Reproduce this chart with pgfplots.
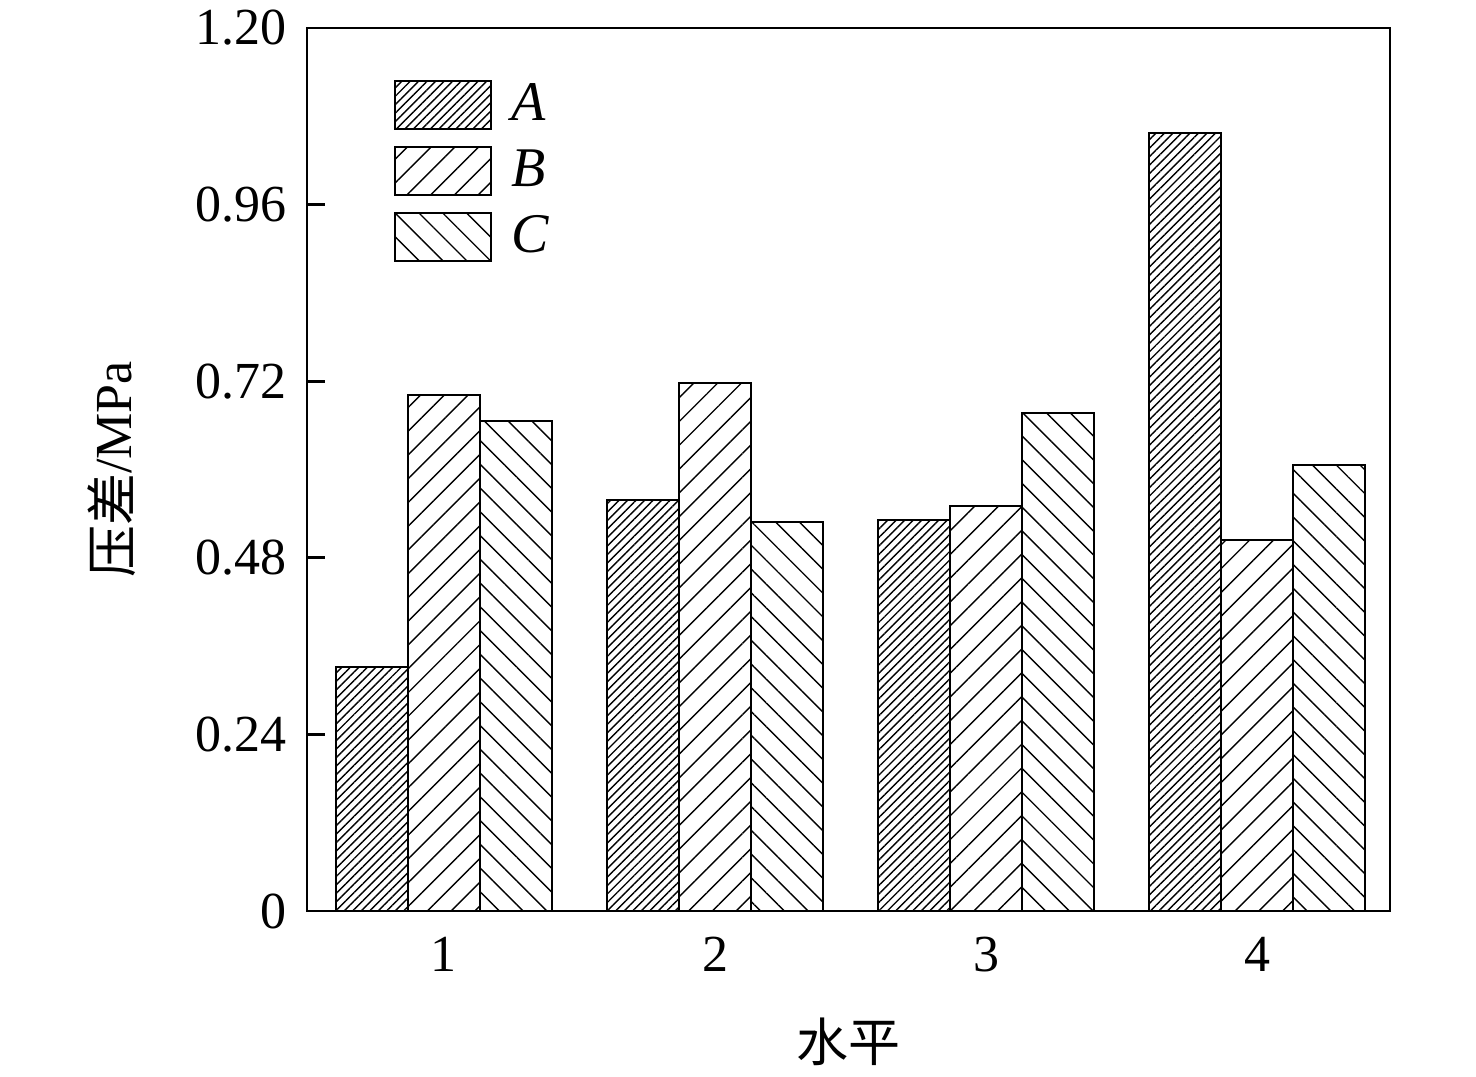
\documentclass[border=0pt]{standalone}
\usepackage{pgfplots}
\pgfplotsset{compat=1.18}
\usepackage{fontspec}
\setmainfont{Liberation Serif}
\newfontfamily\cjk{Noto Sans CJK SC}
\usetikzlibrary{patterns.meta}
\begin{document}
\begin{tikzpicture}
\useasboundingbox (-76.75pt,-41.5pt) rectangle (292.25pt,227.75pt);
\begin{axis}[
  at={(0pt,0pt)}, anchor=south west,
  scale only axis,
  width=270.75pt, height=220.75pt,
  xmin=0.4945, xmax=4.4908, ymin=0, ymax=1.2,
  ybar=0pt, bar width=0.2657,
  axis line style={line width=0.7pt},
  xtick={1,2,3,4},
  xtick style={draw=none},
  ytick={0,0.24,0.48,0.72,0.96,1.2},
  yticklabels={0,0.24,0.48,0.72,0.96,1.20},
  ytick pos=left, tick align=inside,
  major tick length=4.5pt,
  tick style={line width=0.7pt, black},
  /pgf/number format/assume math mode=true,
  tick label style={font=\fontsize{13}{13}\selectfont},
  xticklabel style={yshift=-3pt},
  yticklabel style={xshift=-1.5pt},
  xlabel={\cjk 水平},
  ylabel={{\cjk 压差}/MPa},
  label style={font=\fontsize{13}{13}\selectfont, inner sep=0pt},
  xlabel style={at={(axis description cs:0.5,-0.148)}, anchor=center},
  ylabel style={at={(axis description cs:-0.18,0.5)}, anchor=center},
  legend style={draw=none, fill=none, at={(axis description cs:0.0794,0.947)}, anchor=north west,
    inner sep=0pt, row sep=1.75pt, font=\fontsize{14}{14}\selectfont\itshape,
    cells={anchor=west},
    /tikz/every odd column/.append style={column sep=3pt}},
  legend image code/.code={\draw[#1, line width=0.5pt] (0pt,-6pt) rectangle (24pt,6pt);},
]
\addplot[draw=black, line width=0.5pt, pattern={Lines[angle=45,distance=1.5pt,line width=0.35pt]}]
  coordinates {(1,0.332) (2,0.559) (3,0.531) (4,1.057)};
\addplot[draw=black, line width=0.5pt, pattern={Lines[angle=45,distance=4.2pt,line width=0.35pt]}]
  coordinates {(1,0.701) (2,0.718) (3,0.550) (4,0.504)};
\addplot[draw=black, line width=0.5pt, pattern={Lines[angle=-45,distance=4.2pt,line width=0.35pt]}]
  coordinates {(1,0.666) (2,0.529) (3,0.677) (4,0.606)};
\legend{A,B,C}
\end{axis}
\end{tikzpicture}
\end{document}
